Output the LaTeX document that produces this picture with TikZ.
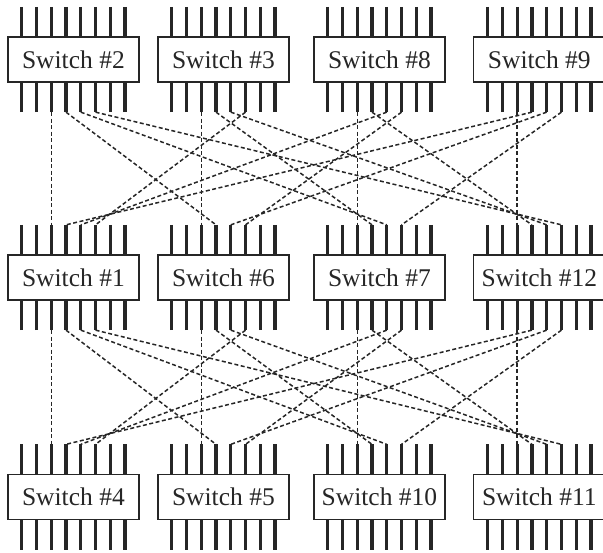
\documentclass[tikz,border=0pt]{standalone}
\usepackage{fontspec}
\setmainfont{Liberation Serif}
\usetikzlibrary{calc}

\definecolor{ink}{HTML}{262626}

\begin{document}
\begin{tikzpicture}[x=1pt, y=-1pt,
    switchbox/.style={draw=ink, line width=1.3pt, fill=white, text=ink,
        minimum width=131pt, minimum height=45pt, inner sep=0pt,
        font=\fontsize{25.5}{30}\selectfont},
    pin/.style={draw=ink, line width=3.2pt},
    link/.style={draw=ink, line width=1.5pt, dash pattern=on 4pt off 2.5pt}]

    % 1. Ramka obrazka (piksele wzorca, os y w dol)
    \useasboundingbox (0,0) rectangle (603,553);

    \def\pinstep{14.76}   % odstep miedzy nozkami
    \def\pinlen{29.5}     % dlugosc nozki

    % 2. PRZELACZNIKI z nozkami (8 u gory, 8 u dolu)
    \foreach \n/\x/\y in {2/73.4/59.5, 3/223.4/59.5, 8/379.4/59.5, 9/539.3/59.5,
                          1/73.4/277.5, 6/223.4/277.5, 7/379.4/277.5, 12/539.3/277.5,
                          4/73.4/497, 5/223.4/497, 10/379.4/497, 11/539.3/497} {
        \node[switchbox] (sw\n) at (\x,\y) {Switch \#\n};
        \foreach \k in {1,...,8} {
            \coordinate (sw\n-t\k) at ($(sw\n.north)+({(\k-4.5)*\pinstep},-\pinlen)$);
            \coordinate (sw\n-b\k) at ($(sw\n.south)+({(\k-4.5)*\pinstep},\pinlen)$);
            \draw[pin] (sw\n-t\k) -- (sw\n-t\k |- sw\n.north);
            \draw[pin] (sw\n-b\k) -- (sw\n-b\k |- sw\n.south);
        }
    }

    % 3. POLACZENIA: przelacznik i, nozka 3+k -> przelacznik (i+k) mod 4, nozka 3+k
    \def\rowA{{2,3,8,9}}
    \def\rowB{{1,6,7,12}}
    \def\rowC{{4,5,10,11}}

    % rzad gorny -> rzad srodkowy
    \foreach \i in {0,...,3}
        \foreach \k in {0,...,3} {
            \pgfmathtruncatemacro\a{\rowA[\i]}
            \pgfmathtruncatemacro\b{\rowB[mod(\i+\k,4)]}
            \pgfmathtruncatemacro\p{3+\k}
            \draw[link] (sw\a-b\p) -- (sw\b-t\p);
        }

    % rzad srodkowy -> rzad dolny
    \foreach \i in {0,...,3}
        \foreach \k in {0,...,3} {
            \pgfmathtruncatemacro\a{\rowB[\i]}
            \pgfmathtruncatemacro\b{\rowC[mod(\i+\k,4)]}
            \pgfmathtruncatemacro\p{3+\k}
            \draw[link] (sw\a-b\p) -- (sw\b-t\p);
        }

\end{tikzpicture}
\end{document}
